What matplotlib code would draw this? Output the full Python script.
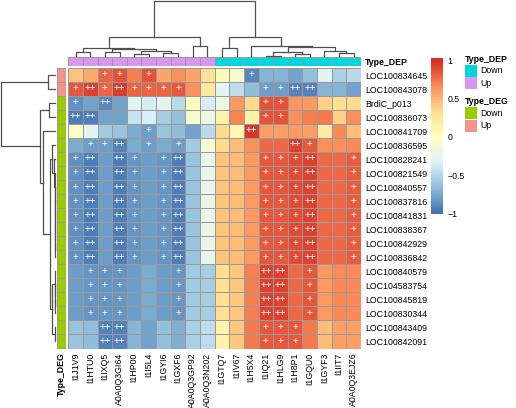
import numpy as np
import matplotlib
matplotlib.use("Agg")
import matplotlib.pyplot as plt
from matplotlib.colors import LinearSegmentedColormap, ListedColormap
from matplotlib.patches import Rectangle

plt.rcParams["font.family"] = ["Liberation Sans", "DejaVu Sans"]

# ---- data ----
col_names = ["I1J1V9", "I1HTU0", "I1IXQ5", "A0A0Q3GI64", "I1HP00", "I1I5L4",
             "I1GYI6", "I1GXF6", "A0A0Q3GP92", "A0A0Q3N202", "I1GTQ7", "I1IV67",
             "I1H5X4", "I1IQ21", "I1HLG9", "I1H8P1", "I1GQU0", "I1GYF3", "I1IIT7",
             "A0A0Q3EJZ6"]
row_names = ["LOC100834645", "LOC100843078", "BrdiC_p013", "LOC100836073",
             "LOC100841709", "LOC100836595", "LOC100828241", "LOC100821549",
             "LOC100840557", "LOC100837816", "LOC100841831", "LOC100838367",
             "LOC100842929", "LOC100836842", "LOC100840579", "LOC104583754",
             "LOC100845819", "LOC100830344", "LOC100843409", "LOC100842091"]
col_type = ["Up", "Up", "Up", "Up", "Up", "Up", "Up", "Up", "Up", "Up",
            "Down", "Down", "Down", "Down", "Down", "Down", "Down", "Down", "Down", "Down"]
row_type = ["Up", "Up"] + ["Down"] * 18

values = [
    [0.45, 0.55, 0.82, 0.87, 0.70, 0.87, 0.57, 0.65, 0.57, 0.30, 0.02, -0.10, -0.90, -0.72, -0.72, -0.78, -0.65, -0.30, -0.55, -0.50],
    [0.84, 0.92, 0.80, 0.95, 0.80, 0.80, 0.80, 0.84, 0.65, 0.25, -0.30, -0.48, -0.67, -0.80, -0.80, -0.92, -0.92, -0.72, -0.72, -0.78],
    [-0.87, -0.78, -0.90, -0.78, -0.30, -0.38, -0.30, -0.50, 0.02, -0.38, -0.22, 0.60, 0.35, 0.86, 0.86, 0.62, 0.60, 0.38, 0.33, 0.35],
    [-0.95, -0.95, -0.78, -0.78, -0.44, -0.36, -0.57, -0.66, -0.10, -0.20, 0.15, 0.68, 0.15, 0.86, 0.86, 0.65, 0.70, 0.72, 0.38, 0.64],
    [-0.05, -0.30, -0.60, -0.63, -0.76, -0.80, -0.64, -0.67, -0.78, -0.50, 0.35, 0.08, 0.97, 0.58, 0.58, 0.60, 0.58, 0.20, 0.67, 0.46],
    [-0.75, -0.80, -0.80, -0.92, -0.76, -0.80, -0.76, -0.80, -0.60, -0.12, 0.35, 0.46, 0.64, 0.78, 0.78, 0.92, 0.84, 0.65, 0.65, 0.66],
    [-0.88, -0.95, -0.80, -0.95, -0.85, -0.80, -0.85, -0.95, -0.63, -0.25, 0.45, 0.47, 0.60, 0.85, 0.85, 0.88, 0.93, 0.78, 0.78, 0.83],
    [-0.88, -0.95, -0.80, -0.95, -0.85, -0.80, -0.85, -0.95, -0.63, -0.25, 0.45, 0.47, 0.60, 0.85, 0.85, 0.88, 0.93, 0.78, 0.78, 0.83],
    [-0.88, -0.95, -0.80, -0.95, -0.85, -0.80, -0.85, -0.95, -0.63, -0.25, 0.45, 0.47, 0.60, 0.85, 0.85, 0.88, 0.93, 0.78, 0.78, 0.83],
    [-0.88, -0.95, -0.80, -0.95, -0.85, -0.80, -0.85, -0.95, -0.63, -0.25, 0.45, 0.47, 0.60, 0.85, 0.85, 0.88, 0.93, 0.78, 0.78, 0.83],
    [-0.88, -0.95, -0.80, -0.95, -0.85, -0.80, -0.85, -0.95, -0.63, -0.25, 0.45, 0.47, 0.60, 0.85, 0.85, 0.88, 0.93, 0.78, 0.78, 0.83],
    [-0.88, -0.95, -0.80, -0.95, -0.85, -0.80, -0.85, -0.95, -0.63, -0.25, 0.45, 0.47, 0.60, 0.85, 0.85, 0.88, 0.93, 0.78, 0.78, 0.83],
    [-0.88, -0.95, -0.80, -0.95, -0.85, -0.80, -0.85, -0.95, -0.63, -0.25, 0.45, 0.47, 0.60, 0.85, 0.85, 0.88, 0.93, 0.78, 0.78, 0.83],
    [-0.88, -0.95, -0.80, -0.95, -0.85, -0.80, -0.85, -0.95, -0.63, -0.25, 0.45, 0.47, 0.60, 0.85, 0.85, 0.88, 0.93, 0.78, 0.78, 0.83],
    [-0.80, -0.85, -0.85, -0.85, -0.80, -0.76, -0.80, -0.85, -0.60, -0.58, 0.33, 0.43, 0.70, 0.93, 0.93, 0.78, 0.84, 0.60, 0.67, 0.67],
    [-0.80, -0.85, -0.85, -0.85, -0.80, -0.76, -0.80, -0.85, -0.60, -0.58, 0.33, 0.43, 0.70, 0.93, 0.93, 0.78, 0.84, 0.60, 0.67, 0.67],
    [-0.80, -0.85, -0.85, -0.85, -0.80, -0.76, -0.80, -0.85, -0.60, -0.58, 0.33, 0.43, 0.70, 0.93, 0.93, 0.78, 0.84, 0.60, 0.67, 0.67],
    [-0.80, -0.85, -0.85, -0.85, -0.80, -0.76, -0.80, -0.85, -0.60, -0.58, 0.33, 0.43, 0.70, 0.93, 0.93, 0.78, 0.84, 0.60, 0.67, 0.67],
    [-0.63, -0.67, -0.93, -0.93, -0.72, -0.78, -0.66, -0.74, -0.55, -0.47, 0.12, 0.42, 0.72, 0.85, 0.85, 0.84, 0.72, 0.47, 0.58, 0.58],
    [-0.63, -0.67, -0.93, -0.93, -0.72, -0.78, -0.66, -0.74, -0.55, -0.47, 0.12, 0.42, 0.72, 0.85, 0.85, 0.84, 0.72, 0.47, 0.58, 0.58],
]

_ = ""
marks = [
    [_, _, "+", "+", _, "+", _, _, _, _, _, _, "+", _, _, _, _, _, _, _],
    ["+", "++", "+", "++", "+", "+", "+", "+", _, _, _, _, _, "+", "+", "++", "++", _, _, _],
    ["+", _, "++", _, _, _, _, _, _, _, _, _, _, "+", "+", _, _, _, _, _],
    ["++", "++", _, _, _, _, _, _, _, _, _, _, _, "+", "+", _, _, _, _, _],
    [_, _, _, _, _, "+", _, _, _, _, _, _, "++", _, _, _, _, _, _, _],
    [_, "+", "+", "++", _, "+", _, "+", _, _, _, _, _, _, _, "++", "+", _, _, _],
    ["+", "++", _, "++", "+", _, "+", "++", _, _, _, _, _, "+", "+", "+", "++", _, _, "+"],
    ["+", "++", _, "++", "+", _, "+", "++", _, _, _, _, _, "+", "+", "+", "++", _, _, "+"],
    ["+", "++", _, "++", "+", _, "+", "++", _, _, _, _, _, "+", "+", "+", "++", _, _, "+"],
    ["+", "++", _, "++", "+", _, "+", "++", _, _, _, _, _, "+", "+", "+", "++", _, _, "+"],
    ["+", "++", _, "++", "+", _, "+", "++", _, _, _, _, _, "+", "+", "+", "++", _, _, "+"],
    ["+", "++", _, "++", "+", _, "+", "++", _, _, _, _, _, "+", "+", "+", "++", _, _, "+"],
    ["+", "++", _, "++", "+", _, "+", "++", _, _, _, _, _, "+", "+", "+", "++", _, _, "+"],
    ["+", "++", _, "++", "+", _, "+", "++", _, _, _, _, _, "+", "+", "+", "++", _, _, "+"],
    [_, "+", "+", "+", _, _, _, "+", _, _, _, _, _, "++", "++", _, "+", _, _, _],
    [_, "+", "+", "+", _, _, _, "+", _, _, _, _, _, "++", "++", _, "+", _, _, _],
    [_, "+", "+", "+", _, _, _, "+", _, _, _, _, _, "++", "++", _, "+", _, _, _],
    [_, "+", "+", "+", _, _, _, "+", _, _, _, _, _, "++", "++", _, "+", _, _, _],
    [_, _, "++", "++", _, _, _, _, _, _, _, _, _, "+", "+", "+", _, _, _, _],
    [_, _, "++", "++", _, _, _, _, _, _, _, _, _, "+", "+", "+", _, _, _, _],
]

# dendrograms: (left, right, merge height); leaves are display positions
col_left = (((0, 1, 3.7), ((2, 3, 4.0), ((4, 5, 2.0), (6, 7, 3.5), 5.0), 6.7), 8.3), (8, 9, 10.0), 19.0)
col_right_sub = (((13, 14, 0.5), (15, 16, 2.0), 4.3), (17, (18, 19, 2.7), 5.3), 9.3)
col_right = ((10, 11, 8.3), (12, col_right_sub, 10.0), 19.0)
col_tree = (col_left, col_right, 55.0)

row_w = (12, 13, 0.0)
for leaf in [11, 10, 9, 8]:
    row_w = (leaf, row_w, 0.0)
row_w = (6, (7, row_w, 0.3), 1.2)
row_z1 = (5, row_w, 3.5)
row_z2 = ((14, (15, (16, 17, 0.1), 0.1), 0.2), (18, 19, 0.2), 3.3)
row_x = (4, (row_z1, row_z2, 5.0), 12.3)
row_tree = ((0, 1, 7.3), ((2, 3, 5.7), row_x, 15.0), 54.0)

dep_colors = {"Down": "#00D7DC", "Up": "#DD96F0"}
deg_colors = {"Down": "#99CC00", "Up": "#F4938C"}

# ---- drawing ----
W, H = 516, 408
fig = plt.figure(figsize=(W / 100, H / 100), dpi=100)


def box(x0, y0, x1, y1):
    return [x0 / W, 1 - y1 / H, (x1 - x0) / W, (y1 - y0) / H]


def tree_segments(node):
    if isinstance(node, int):
        return node + 0.5, 0.0, []
    left, right, h = node
    p1, h1, s1 = tree_segments(left)
    p2, h2, s2 = tree_segments(right)
    seg = [(p1, h1), (p1, h), (p2, h), (p2, h2)]
    return (p1 + p2) / 2, h, s1 + s2 + [seg]


cmap = LinearSegmentedColormap.from_list(
    "rdylbu", ["#4575B4", "#91BFDB", "#E0F3F8", "#FFFFBF", "#FEE090", "#FC8D59", "#D73027"], N=100)
grid = "#9a9a9a"
fs = 6.3

# heatmap
ax = fig.add_axes(box(68.3, 68, 361, 348.5))
data = np.array(values)
ax.pcolormesh(np.arange(21), np.arange(21), data, cmap=cmap, vmin=-1, vmax=1,
              edgecolors=grid, linewidth=0.6)
for i in range(len(row_names)):
    for j in range(len(col_names)):
        if marks[i][j]:
            ax.text(j + 0.5, i + 0.45, marks[i][j], ha="center", va="center",
                    color="white", fontsize=7)
ax.set_xlim(0, 20)
ax.set_ylim(20, 0)
ax.yaxis.tick_right()
ax.set_yticks(np.arange(20) + 0.5)
ax.set_yticklabels(row_names, fontsize=fs)
ax.set_xticks(np.arange(20) + 0.5)
ax.set_xticklabels(col_names, rotation=90, fontsize=fs)
ax.tick_params(length=0, pad=3)
for s in ax.spines.values():
    s.set_visible(False)

# column annotation
ax_ca = fig.add_axes(box(68.3, 57, 361, 65.5))
codes = np.array([[0 if t == "Down" else 1 for t in col_type]])
ax_ca.pcolormesh(np.arange(21), [0, 1], codes,
                 cmap=ListedColormap([dep_colors["Down"], dep_colors["Up"]]),
                 vmin=0, vmax=1, edgecolors=grid, linewidth=0.6)
ax_ca.set_xlim(0, 20)
ax_ca.set_ylim(1, 0)
ax_ca.set_xticks([])
ax_ca.yaxis.tick_right()
ax_ca.set_yticks([0.5])
ax_ca.set_yticklabels(["Type_DEP"], fontsize=fs, fontweight="bold")
ax_ca.tick_params(length=0, pad=3)
for s in ax_ca.spines.values():
    s.set_visible(False)

# row annotation
ax_ra = fig.add_axes(box(57, 68, 65.5, 348.5))
codes = np.array([[0 if t == "Down" else 1] for t in row_type])
ax_ra.pcolormesh([0, 1], np.arange(21), codes,
                 cmap=ListedColormap([deg_colors["Down"], deg_colors["Up"]]),
                 vmin=0, vmax=1, edgecolors=grid, linewidth=0.6)
ax_ra.set_xlim(0, 1)
ax_ra.set_ylim(20, 0)
ax_ra.set_yticks([])
ax_ra.set_xticks([0.5])
ax_ra.set_xticklabels(["Type_DEG"], rotation=90, fontsize=fs, fontweight="bold")
ax_ra.tick_params(length=0, pad=3)
for s in ax_ra.spines.values():
    s.set_visible(False)

# column dendrogram
ax_ct = fig.add_axes(box(68.3, 1, 361, 56))
for seg in tree_segments(col_tree)[2]:
    xs, ys = zip(*seg)
    ax_ct.plot(xs, ys, color="#505050", lw=0.9, clip_on=False)
ax_ct.set_xlim(0, 20)
ax_ct.set_ylim(0, 55)
ax_ct.axis("off")

# row dendrogram
ax_rt = fig.add_axes(box(1, 68, 55, 348.5))
for seg in tree_segments(row_tree)[2]:
    ys, xs = zip(*seg)
    ax_rt.plot(xs, ys, color="#505050", lw=0.9, clip_on=False)
ax_rt.set_xlim(54, 0)
ax_rt.set_ylim(20, 0)
ax_rt.axis("off")

# colour bar
ax_cb = fig.add_axes(box(431, 58.3, 442, 214))
lo, hi = -1.01, 1.03
ax_cb.imshow(np.linspace(lo, hi, 200).reshape(-1, 1), cmap=cmap, vmin=-1, vmax=1,
             aspect="auto", origin="lower", extent=[0, 1, lo, hi])
ax_cb.set_xticks([])
ax_cb.yaxis.tick_right()
ax_cb.set_yticks([-1, -0.5, 0, 0.5, 1])
ax_cb.set_yticklabels(["\u22121", "\u22120.5", "0", "0.5", "1"], fontsize=fs)
ax_cb.tick_params(length=0, pad=4)
for s in ax_cb.spines.values():
    s.set_visible(False)

# annotation legends
ax_lg = fig.add_axes(box(455, 45, 516, 140))
ax_lg.set_xlim(455, 516)
ax_lg.set_ylim(140, 45)
ax_lg.axis("off")
for title, colors, top in [("Type_DEP", dep_colors, 59.3), ("Type_DEG", deg_colors, 101.7)]:
    ax_lg.text(465.3, top, title, fontsize=fs, fontweight="bold", va="center")
    for k, name in enumerate(["Down", "Up"]):
        y0 = top + 5.5 + k * 12.3
        ax_lg.add_patch(Rectangle((465.3, y0), 12, 12.3, facecolor=colors[name], edgecolor="none"))
        ax_lg.text(480.7, y0 + 6.1, name, fontsize=fs, va="center")

plt.savefig("out.png", dpi=100, facecolor="white")
